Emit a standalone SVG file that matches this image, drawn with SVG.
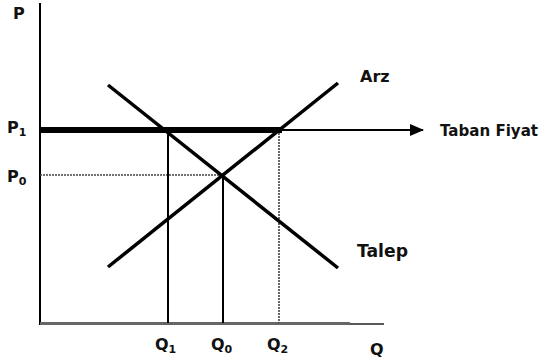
<svg xmlns="http://www.w3.org/2000/svg" width="548" height="363" viewBox="0 0 548 363">
<style>
.lbl{font-family:"DejaVu Sans","Liberation Sans",sans-serif;font-weight:bold;font-size:16px;fill:#111}
.sub{font-size:11px}
.ln{stroke:#000;fill:none}
.dot{stroke:#444;stroke-width:1.6;stroke-dasharray:2,1;fill:none}
</style>
<defs>
<marker id="arr" markerWidth="14" markerHeight="12" refX="13" refY="6" orient="auto" markerUnits="userSpaceOnUse">
<path d="M0,0 L14,6 L0,12 Z" fill="#000"/>
</marker>
</defs>
<rect width="548" height="363" fill="#fff"/>
<g id="axes">
<line class="ln" x1="40" y1="3" x2="40" y2="325" stroke-width="2"/>
<line x1="40" y1="323.5" x2="350" y2="323.5" stroke="#666" stroke-width="3"/>
<line x1="350" y1="324" x2="384" y2="324" stroke="#222" stroke-width="1.5"/>
</g>
<g id="connectors">
<line class="ln" x1="40" y1="130" x2="282" y2="130" stroke-width="6"/>
<line class="ln" x1="282" y1="130" x2="423" y2="130" stroke-width="2" marker-end="url(#arr)"/>
<line class="dot" x1="40" y1="175" x2="223" y2="175"/>
<line class="ln" x1="168" y1="130" x2="168" y2="323" stroke-width="2"/>
<line class="ln" x1="223" y1="175" x2="223" y2="323" stroke-width="2"/>
<line class="dot" x1="279" y1="130" x2="279" y2="323"/>
<line class="ln" x1="108" y1="85" x2="338" y2="268" stroke-width="3.5"/>
<line class="ln" x1="108" y1="267" x2="338" y2="83" stroke-width="3.5"/>
</g>
<g id="labels">
<text class="lbl" x="13" y="19">P</text>
<text class="lbl" x="7" y="133">P<tspan class="sub" dy="3">1</tspan></text>
<text class="lbl" x="7" y="182">P<tspan class="sub" dy="3">0</tspan></text>
<text class="lbl" x="155" y="350">Q<tspan class="sub" dy="3">1</tspan></text>
<text class="lbl" x="211" y="350">Q<tspan class="sub" dy="3">0</tspan></text>
<text class="lbl" x="267" y="350">Q<tspan class="sub" dy="3">2</tspan></text>
<text class="lbl" x="370" y="355">Q</text>
<text class="lbl" x="360" y="82">Arz</text>
<text class="lbl" x="440" y="136" style="font-size:15px" textLength="98" lengthAdjust="spacingAndGlyphs">Taban Fiyat</text>
<text class="lbl" x="357" y="257" style="font-size:17px" textLength="51" lengthAdjust="spacingAndGlyphs">Talep</text>
</g>
</svg>
